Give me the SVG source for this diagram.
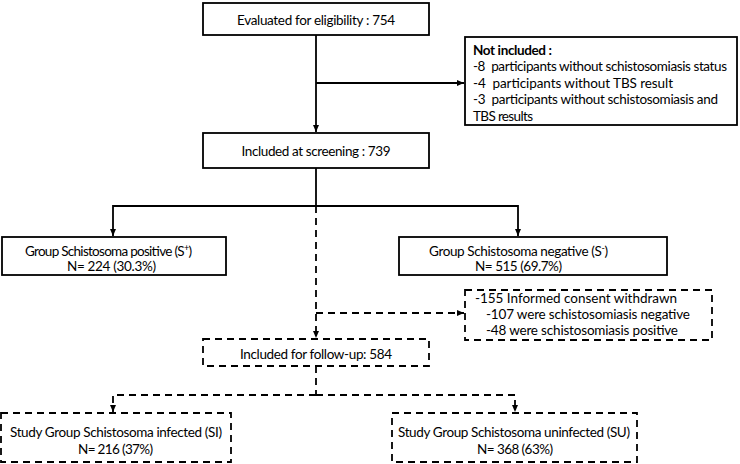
<svg xmlns="http://www.w3.org/2000/svg" width="740" height="464" viewBox="0 0 740 464">
<defs>
<marker id="ah" markerWidth="7" markerHeight="6" refX="7" refY="3" orient="auto" markerUnits="userSpaceOnUse">
<path d="M0,0 L7,3 L0,6 z" fill="#000"/>
</marker>
<style>
.box{fill:#fff;stroke:#000;stroke-width:1.8}
.dbox{fill:#fff;stroke:#000;stroke-width:1.8;stroke-dasharray:7 5}
.ln{fill:none;stroke:#000;stroke-width:1.8}
.dln{fill:none;stroke:#000;stroke-width:1.8;stroke-dasharray:7 5}
text{font-family:Lato,"Liberation Sans",sans-serif;font-size:13.5px;fill:#000}
.c{text-anchor:middle}
.b{font-weight:bold}
</style>
</defs>
<rect width="740" height="464" fill="#fff"/>
<g id="connectors">
<path class="ln" d="M316 35 V132" marker-end="url(#ah)"/>
<path class="ln" d="M316 83 H464" marker-end="url(#ah)"/>
<path class="ln" d="M316 168 V206"/>
<path class="ln" d="M316 206 H113 V236" marker-end="url(#ah)"/>
<path class="ln" d="M316 206 H518 V236" marker-end="url(#ah)"/>
<path class="dln" d="M316 206 V338" marker-end="url(#ah)"/>
<path class="dln" d="M316 313 H464" marker-end="url(#ah)"/>
<path class="dln" d="M316 366 V395"/>
<path class="dln" d="M316 395 H113 V412" marker-end="url(#ah)"/>
<path class="dln" d="M316 395 H515 V412" marker-end="url(#ah)"/>
</g>
<g id="n1">
<rect class="box" x="203" y="3" width="226" height="32"/>
<text class="c" x="316" y="24.5" textLength="158">Evaluated for eligibility : 754</text>
</g>
<g id="n2">
<rect class="box" x="465" y="37" width="272" height="88"/>
<text class="b" x="473" y="54.5" textLength="79">Not included :</text>
<text xml:space="preserve" x="473" y="71" textLength="254">-8  participants without schistosomiasis status</text>
<text xml:space="preserve" x="473" y="87.5" textLength="200">-4  participants without TBS result</text>
<text xml:space="preserve" x="473" y="104" textLength="245">-3  participants without schistosomiasis and</text>
<text x="473" y="120.5" textLength="60">TBS results</text>
</g>
<g id="n3">
<rect class="box" x="203" y="133" width="226" height="35"/>
<text class="c" x="316" y="155.5" textLength="149">Included at screening : 739</text>
</g>
<g id="n4">
<rect class="box" x="2" y="237" width="224" height="38"/>
<text x="25" y="255.5" textLength="167">Group Schistosoma positive (S<tspan font-size="9" dy="-5">+</tspan><tspan dy="5">)</tspan></text>
<text class="c" x="111.5" y="270.5" textLength="89">N= 224 (30.3%)</text>
</g>
<g id="n5">
<rect class="box" x="399" y="237" width="268" height="38"/>
<text x="429" y="255.5" textLength="179">Group Schistosoma negative (S<tspan font-size="9" dy="-5">-</tspan><tspan dy="5">)</tspan></text>
<text class="c" x="518.5" y="270.5" textLength="87">N= 515 (69.7%)</text>
</g>
<g id="n6">
<rect class="dbox" x="465" y="290" width="247" height="50"/>
<text x="475" y="302.5" textLength="202">-155 Informed consent withdrawn</text>
<text x="486" y="318.5" textLength="204">-107 were schistosomiasis negative</text>
<text x="486" y="334.5" textLength="192">-48 were schistosomiasis positive</text>
</g>
<g id="n7">
<rect class="dbox" x="203" y="339" width="226" height="27"/>
<text class="c" x="316" y="358.5" textLength="152">Included for follow-up: 584</text>
</g>
<g id="n8">
<rect class="dbox" x="1" y="413" width="230" height="49"/>
<text x="10" y="436.5" textLength="212">Study Group Schistosoma infected (SI)</text>
<text class="c" x="115.5" y="453.5" textLength="75">N= 216 (37%)</text>
</g>
<g id="n9">
<rect class="dbox" x="392" y="413" width="245" height="49"/>
<text x="398" y="436.5" textLength="232">Study Group Schistosoma uninfected (SU)</text>
<text class="c" x="515" y="454" textLength="76">N= 368 (63%)</text>
</g>
</svg>
